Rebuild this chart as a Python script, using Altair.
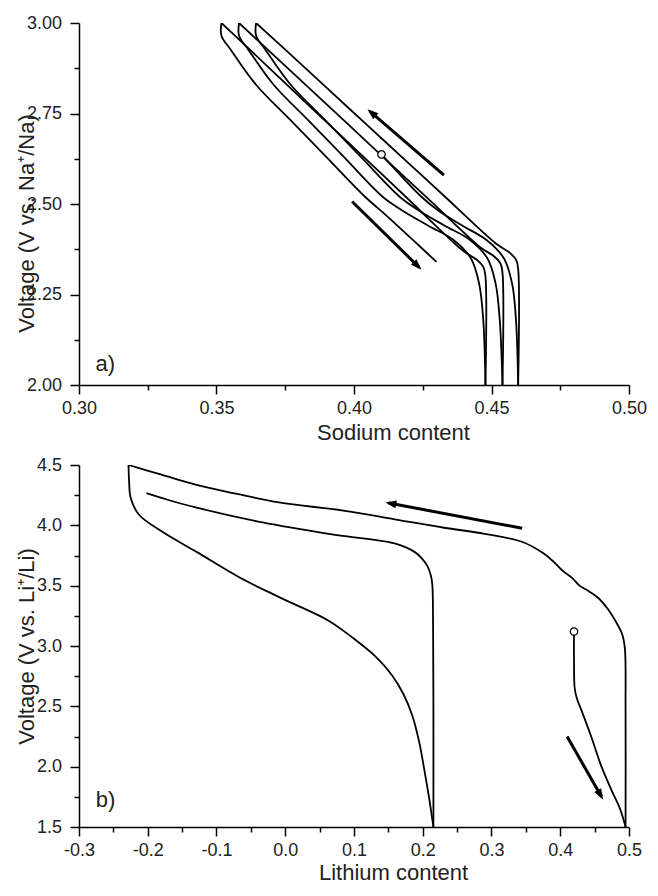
import math
import altair as alt
import pandas as pd

FONT = "Liberation Sans"
TXT = "#222222"
W, H = 550, 362

# ---------------- Panel a: sodium ----------------
na_xdom = [0.30, 0.50]
na_ydom = [2.00, 3.00]
na_xticks = [0.300, 0.325, 0.350, 0.375, 0.400, 0.425, 0.450, 0.475, 0.500]
na_yticks = [2.000, 2.125, 2.250, 2.375, 2.500, 2.625, 2.750, 2.875, 3.000]

na_D1_x = [0.410, 0.4245, 0.431, 0.4395, 0.4483, 0.4545, 0.4575, 0.4589, 0.4597]
na_D1_y = [2.637, 2.52, 2.48, 2.44, 2.40, 2.35, 2.28, 2.18, 2.00]
na_C1_x = [0.4597, 0.4597, 0.4590, 0.4567, 0.4517, 0.4331, 0.4188, 0.4045, 0.3902, 0.3759, 0.3644]
na_C1_y = [2.00, 2.32, 2.345, 2.365, 2.39, 2.52, 2.62, 2.72, 2.82, 2.92, 3.00]
na_D2_x = [0.3644, 0.3644, 0.3679, 0.3769, 0.3897, 0.4025, 0.4166, 0.4240, 0.4330, 0.4423, 0.4485, 0.4515, 0.4530, 0.4540]
na_D2_y = [3.00, 2.965, 2.925, 2.83, 2.73, 2.63, 2.52, 2.48, 2.44, 2.40, 2.35, 2.28, 2.18, 2.00]
na_C2_x = [0.4540, 0.4540, 0.4533, 0.4510, 0.4460, 0.4276, 0.4120, 0.3979, 0.3837, 0.3695, 0.3582]
na_C2_y = [2.00, 2.31, 2.335, 2.355, 2.38, 2.51, 2.62, 2.72, 2.82, 2.92, 3.00]
na_D3_x = [0.3582, 0.3582, 0.3617, 0.3707, 0.3835, 0.3963, 0.4104, 0.4180, 0.4270, 0.4363, 0.4425, 0.4455, 0.4470, 0.4478]
na_D3_y = [3.00, 2.965, 2.925, 2.83, 2.73, 2.63, 2.52, 2.48, 2.44, 2.40, 2.35, 2.28, 2.18, 2.00]
na_C3_x = [0.4478, 0.4478, 0.4471, 0.4448, 0.4398, 0.4188, 0.4049, 0.3909, 0.3769, 0.3630, 0.3518]
na_C3_y = [2.00, 2.30, 2.325, 2.345, 2.37, 2.52, 2.62, 2.72, 2.82, 2.92, 3.00]
na_D4_x = [0.3518, 0.3518, 0.3553, 0.3643, 0.3771, 0.3899, 0.4040, 0.4115, 0.4215, 0.4300]
na_D4_y = [3.00, 2.965, 2.925, 2.83, 2.73, 2.63, 2.52, 2.47, 2.40, 2.34]

na_curves = [("D1", na_D1_x, na_D1_y), ("C1", na_C1_x, na_C1_y),
             ("D2", na_D2_x, na_D2_y), ("C2", na_C2_x, na_C2_y),
             ("D3", na_D3_x, na_D3_y), ("C3", na_C3_x, na_C3_y),
             ("D4", na_D4_x, na_D4_y)]

na_arrow_tail_x = [0.4327, 0.3993]
na_arrow_tail_y = [2.580, 2.507]
na_arrow_head_x = [0.4058, 0.4237]
na_arrow_head_y = [2.756, 2.325]
na_start_x = [0.410]
na_start_y = [2.637]
na_label = ["a)"]
na_label_x = [0.306]
na_label_y = [2.058]

# ---------------- Panel b: lithium ----------------
li_xdom = [-0.3, 0.5]
li_ydom = [1.5, 4.5]
li_xticks = [-0.30, -0.25, -0.20, -0.15, -0.10, -0.05, 0.00, 0.05, 0.10, 0.15,
             0.20, 0.25, 0.30, 0.35, 0.40, 0.45, 0.50]
li_yticks = [1.50, 1.75, 2.00, 2.25, 2.50, 2.75, 3.00, 3.25, 3.50, 3.75, 4.00, 4.25, 4.50]

li_D1_x = [0.420, 0.420, 0.421, 0.424, 0.432, 0.445, 0.460, 0.475, 0.487, 0.495]
li_D1_y = [3.12, 2.90, 2.65, 2.57, 2.45, 2.25, 2.00, 1.80, 1.65, 1.50]
li_C1_x = [0.495, 0.495, 0.494, 0.490, 0.483, 0.470, 0.455, 0.440, 0.428, 0.418, 0.404,
           0.390, 0.375, 0.346, 0.290, 0.231, 0.159, 0.087, -0.009, -0.070, -0.129, -0.180, -0.228]
li_C1_y = [1.50, 2.50, 2.98, 3.10, 3.18, 3.30, 3.40, 3.46, 3.50, 3.56, 3.62,
           3.70, 3.77, 3.86, 3.93, 3.98, 4.05, 4.12, 4.19, 4.26, 4.335, 4.42, 4.50]
li_D2_x = [-0.228, -0.227, -0.225, -0.213, -0.177, -0.129, -0.067, -0.009, 0.063, 0.100,
           0.130, 0.155, 0.172, 0.185, 0.195, 0.203, 0.209, 0.2155]
li_D2_y = [4.50, 4.35, 4.23, 4.09, 3.94, 3.78, 3.57, 3.405, 3.21, 3.06,
           2.92, 2.76, 2.60, 2.42, 2.20, 1.95, 1.75, 1.50]
li_C2_x = [0.2155, 0.2155, 0.2150, 0.2140, 0.2120, 0.2070, 0.1980, 0.1880, 0.1590, 0.0870,
           0.0630, -0.0330, -0.1290, -0.1700, -0.2020]
li_C2_y = [1.50, 2.50, 3.20, 3.50, 3.58, 3.66, 3.73, 3.78, 3.85, 3.91,
           3.93, 4.024, 4.146, 4.21, 4.267]

li_curves = [("D1", li_D1_x, li_D1_y), ("C1", li_C1_x, li_C1_y),
             ("D2", li_D2_x, li_D2_y), ("C2", li_C2_x, li_C2_y)]

li_arrow_tail_x = [0.3446, 0.410]
li_arrow_tail_y = [3.976, 2.250]
li_arrow_head_x = [0.1504, 0.460]
li_arrow_head_y = [4.185, 1.750]
li_start_x = [0.420]
li_start_y = [3.12]
li_label = ["b)"]
li_label_x = [-0.2755]
li_label_y = [1.72]

HEAD = "M0,-0.3L0.36,0.7L-0.36,0.7Z"


def minor_test(mult):
    return f"abs(datum.value*{mult} - round(datum.value*{mult})) > 0.01"


def axis(values, mult, fmt, title, title_x, title_y, baseline, pad, signed=False):
    if signed:
        lab = f"(datum.value < -0.0001 ? '-' : '') + format(abs(datum.value), '{fmt}')"
    else:
        lab = f"format(datum.value, '{fmt}')"
    return alt.Axis(
        values=values,
        labelExpr=f"{minor_test(mult)} ? '' : {lab}",
        title=title, titleX=title_x, titleY=title_y, titleAlign="center",
        titleBaseline=baseline, titleFont=FONT, titleFontSize=22,
        titleFontWeight="normal", titleColor=TXT,
        labelFont=FONT, labelFontSize=18, labelColor=TXT,
        labelFlush=False, labelOverlap=False, labelPadding=pad,
        tickSize={"condition": {"test": minor_test(mult), "value": 5}, "value": 9},
        tickColor="black", tickWidth=1.5,
        domainColor="black", domainWidth=1.5, grid=False,
    )


def panel(curves, xdom, ydom, xaxis, yaxis, tx, ty, hx, hy, sx, sy, lab, lx, ly):
    X = alt.X("x:Q", scale=alt.Scale(domain=xdom, nice=False, zero=False), axis=xaxis)
    Y = alt.Y("y:Q", scale=alt.Scale(domain=ydom, nice=False, zero=False), axis=yaxis)

    rows = []
    for name, xs, ys in curves:
        for i, (x, y) in enumerate(zip(xs, ys)):
            rows.append({"curve": name, "i": i, "x": x, "y": y})
    df_lines = pd.DataFrame(rows)
    lines = alt.Chart(df_lines).mark_line(
        color="black", strokeWidth=1.8, interpolate="catmull-rom", clip=True
    ).encode(x=X, y=Y, detail="curve:N", order="i:Q")

    angles = []
    for a, b, c, d in zip(tx, ty, hx, hy):
        dx = (c - a) / (xdom[1] - xdom[0]) * W
        dys = -(d - b) / (ydom[1] - ydom[0]) * H
        angles.append(math.degrees(math.atan2(dx, -dys)) % 360)
    df_ar = pd.DataFrame({"x": tx, "y": ty, "x2": hx, "y2": hy})
    shafts = alt.Chart(df_ar).mark_rule(color="black", strokeWidth=3).encode(
        x=X, y=Y, x2="x2:Q", y2="y2:Q")
    df_head = pd.DataFrame({"x": hx, "y": hy, "angle": angles})
    heads = alt.Chart(df_head).mark_point(
        shape=HEAD, filled=True, color="black", opacity=1, size=484, strokeWidth=0
    ).encode(x=X, y=Y, angle=alt.Angle("angle:Q", scale=None))

    df_s = pd.DataFrame({"x": sx, "y": sy})
    start = alt.Chart(df_s).mark_point(
        shape="circle", filled=True, fill="white", stroke="black",
        strokeWidth=1.3, size=55, opacity=1
    ).encode(x=X, y=Y)

    df_t = pd.DataFrame({"x": lx, "y": ly, "t": lab})
    text = alt.Chart(df_t).mark_text(
        align="left", baseline="middle", font=FONT, fontSize=22, color=TXT
    ).encode(x=X, y=Y, text="t:N")

    return alt.layer(lines, shafts, heads, start, text).properties(width=W, height=H)


top = panel(
    na_curves, na_xdom, na_ydom,
    axis(na_xticks, 20, ".2f", "Sodium content", 314, 54, "alphabetic", 5),
    axis(na_yticks, 4, ".2f", "Voltage (V vs. Na\u207a/Na)", -53, 200, "middle", 8.5),
    na_arrow_tail_x, na_arrow_tail_y, na_arrow_head_x, na_arrow_head_y,
    na_start_x, na_start_y, na_label, na_label_x, na_label_y,
)
bottom = panel(
    li_curves, li_xdom, li_ydom,
    axis(li_xticks, 10, ".1f", "Lithium content", 314, 52, "alphabetic", 5, signed=True),
    axis(li_yticks, 2, ".1f", "Voltage (V vs. Li\u207a/Li)", -53, 181, "middle", 8.5),
    li_arrow_tail_x, li_arrow_tail_y, li_arrow_head_x, li_arrow_head_y,
    li_start_x, li_start_y, li_label, li_label_x, li_label_y,
)

chart = alt.vconcat(top, bottom, spacing=13).properties(
    padding={"left": 7, "top": 6, "right": 0, "bottom": 0},
    background="white",
).configure_view(stroke=None)

chart.save("out.html", embed_options={"renderer": "svg", "actions": False})
